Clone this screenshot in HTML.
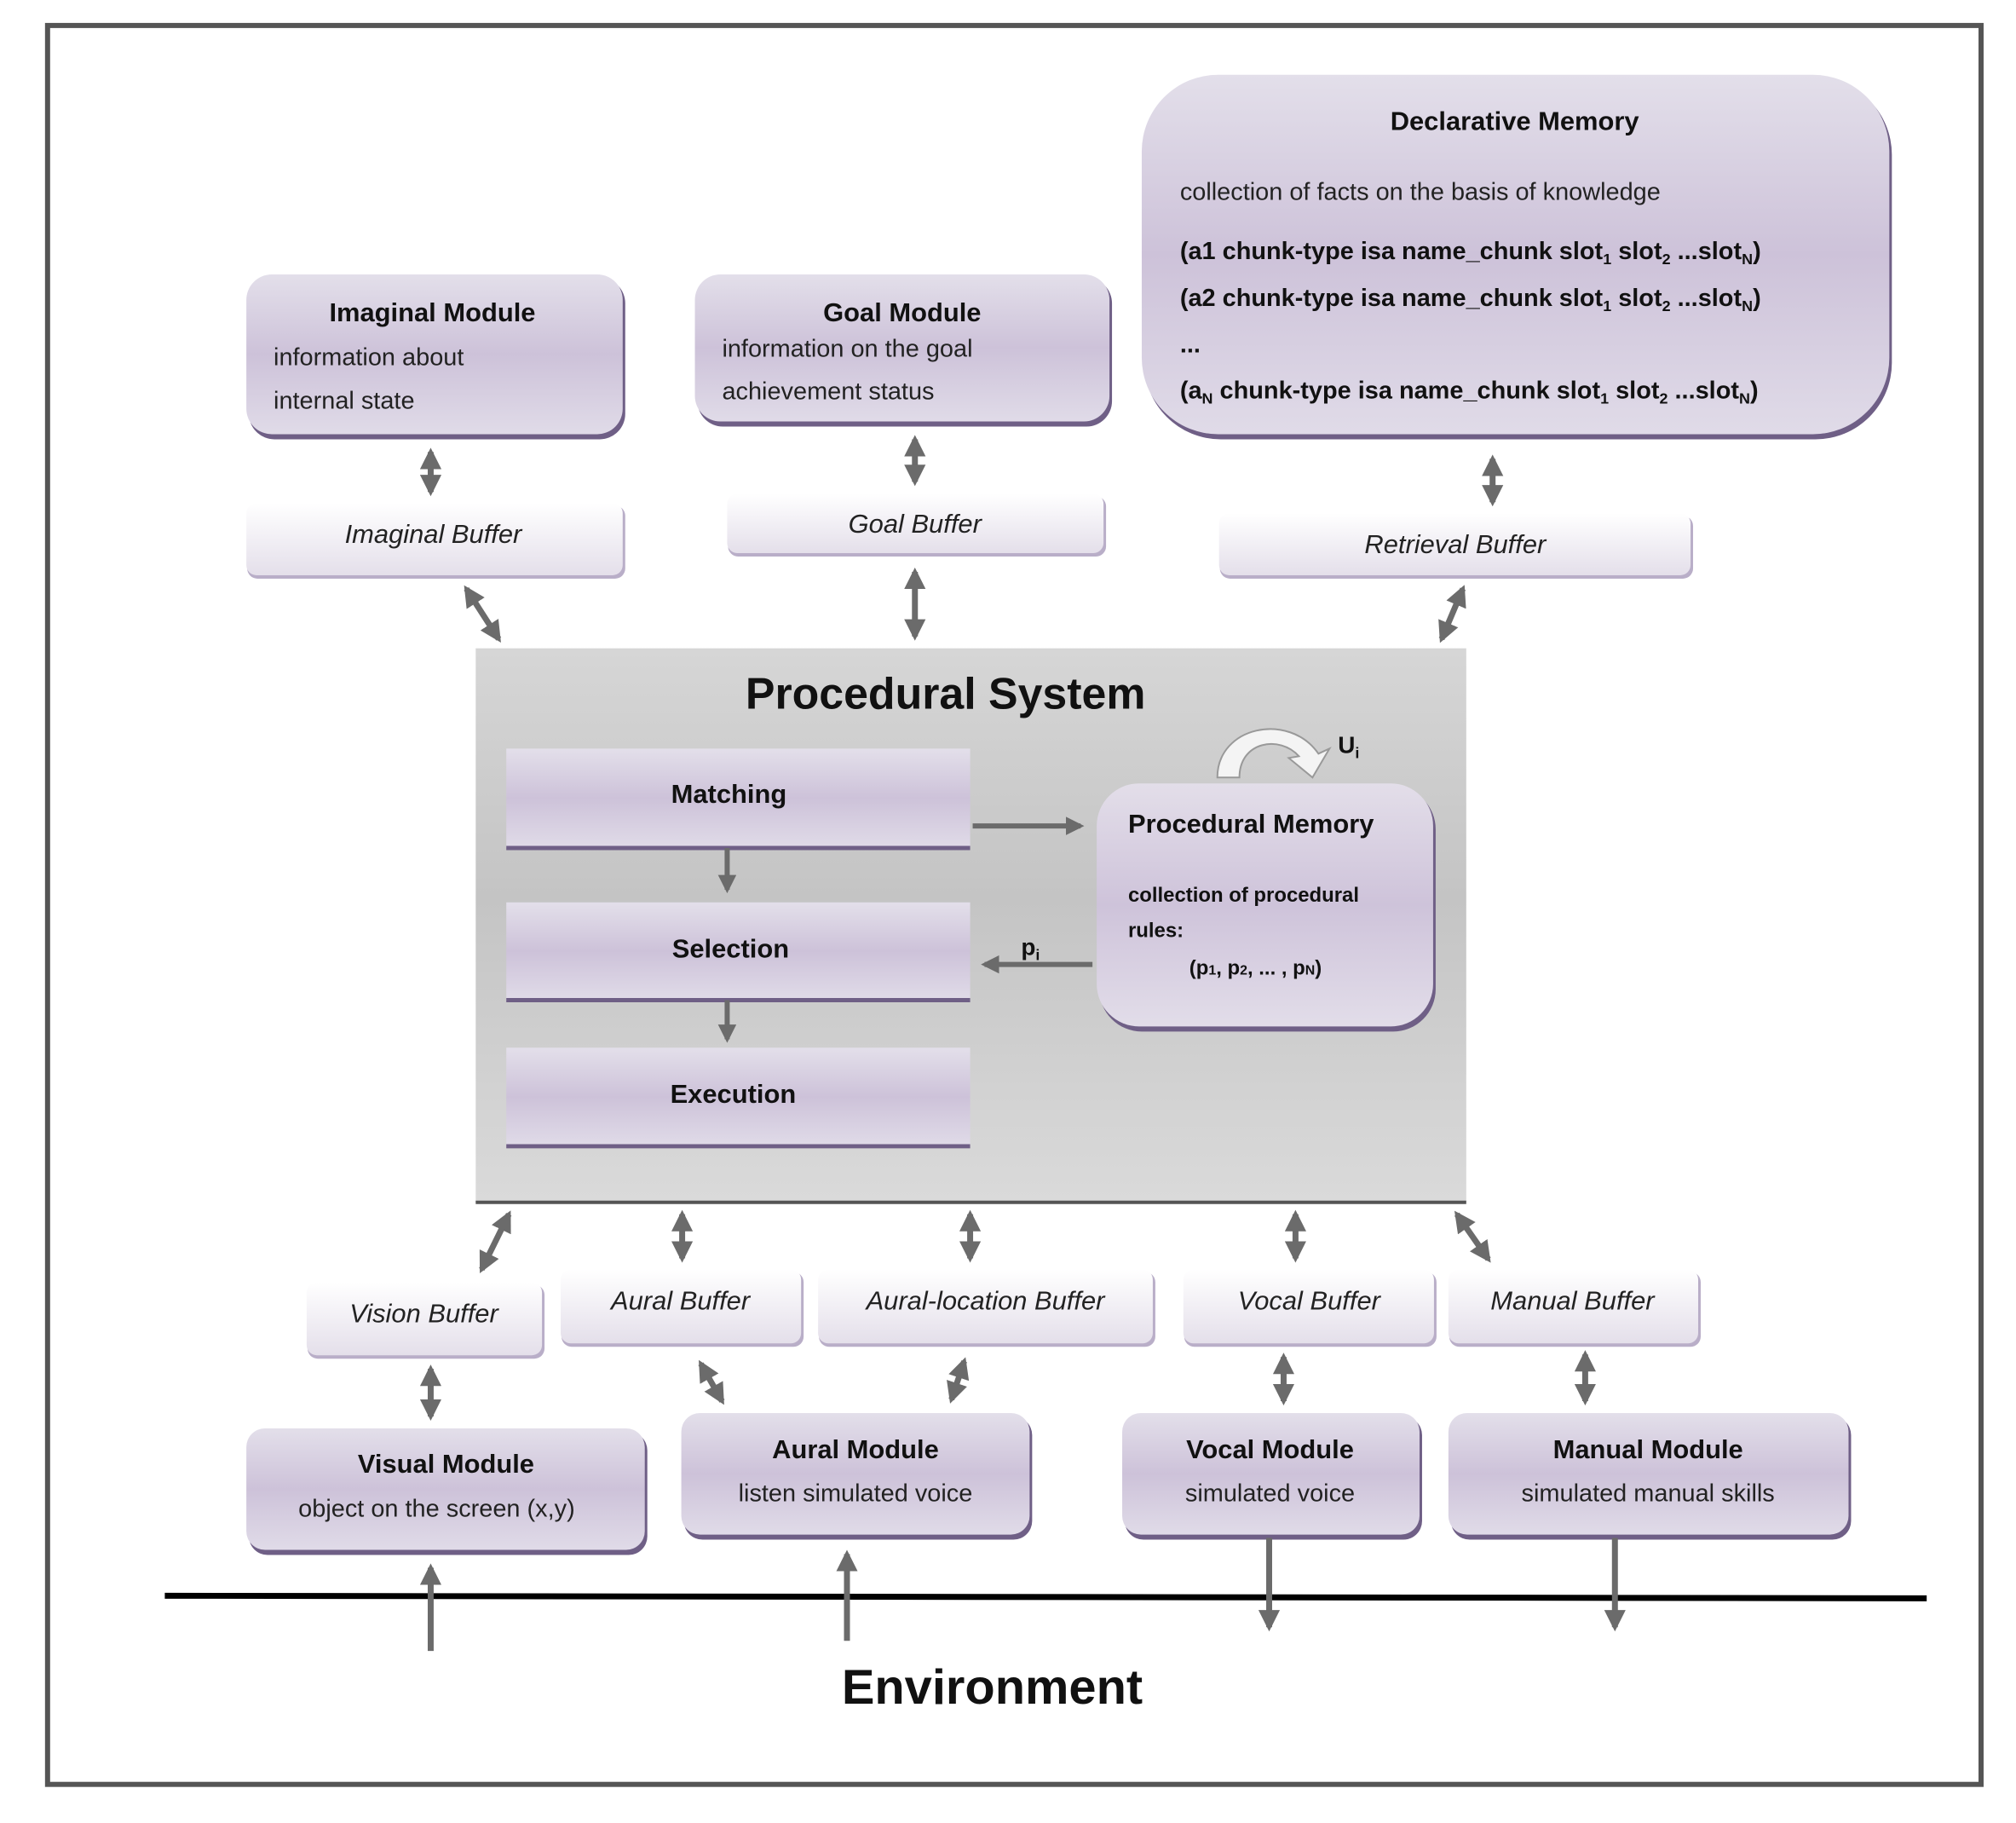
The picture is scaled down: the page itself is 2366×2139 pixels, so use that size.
<!DOCTYPE html>
<html><head><meta charset="utf-8"><style>
html,body{margin:0;padding:0;background:#fff;}
svg{display:block;font-family:"Liberation Sans",sans-serif;}
.t{font-weight:bold;font-size:31px;fill:#111;text-anchor:middle;}
.b{font-size:29px;fill:#222;}
.bu{font-style:italic;font-size:31px;fill:#222;text-anchor:middle;}
.d{font-weight:bold;font-size:29px;fill:#111;}
</style></head><body>
<svg width="2366" height="2139" viewBox="0 0 2366 2139" xmlns="http://www.w3.org/2000/svg">
<defs>
<linearGradient id="mod" x1="0" y1="0" x2="0" y2="1">
<stop offset="0" stop-color="#e3dfea"/><stop offset="0.5" stop-color="#cdc2d9"/><stop offset="1" stop-color="#e0dbe8"/></linearGradient>
<linearGradient id="buf" x1="0" y1="0" x2="0" y2="1">
<stop offset="0" stop-color="#ffffff"/><stop offset="1" stop-color="#e4dfea"/></linearGradient>
<linearGradient id="ps" x1="0" y1="0" x2="0" y2="1">
<stop offset="0" stop-color="#d6d6d6"/><stop offset="0.45" stop-color="#c4c4c4"/><stop offset="1" stop-color="#dadada"/></linearGradient>
<linearGradient id="pm" x1="0" y1="0" x2="0" y2="1">
<stop offset="0" stop-color="#e3dee9"/><stop offset="0.5" stop-color="#cec3da"/><stop offset="1" stop-color="#e2dde9"/></linearGradient>
<marker id="ah" viewBox="0 0 10 10" refX="8" refY="5" markerWidth="3.6" markerHeight="3.6" orient="auto-start-reverse" markerUnits="strokeWidth">
<path d="M0,0 L10,5 L0,10 z" fill="#6b6b6b"/></marker>
</defs>
<g transform="translate(-3,-3) scale(0.997)">
<rect x="59" y="33" width="2276" height="2070" fill="#fff" stroke="#555" stroke-width="6"/>

<g>
<rect x="296" y="330" width="443" height="190" rx="30" fill="#6f5f86"/>
<rect x="293" y="326" width="443" height="188" rx="30" fill="url(#mod)"/>
<rect x="824" y="330" width="488" height="175" rx="30" fill="#6f5f86"/>
<rect x="821" y="326" width="488" height="173" rx="30" fill="url(#mod)"/>
<rect x="1350" y="95" width="880" height="425" rx="90" fill="#6f5f86"/>
<rect x="1347" y="91" width="880" height="423" rx="90" fill="url(#mod)"/>
</g>
<text class="t" x="512" y="381">Imaginal Module</text>
<text class="b" x="325" y="433">information about</text>
<text class="b" x="325" y="484">internal state</text>
<text class="t" x="1065" y="381">Goal Module</text>
<text class="b" x="853" y="423">information on the goal</text>
<text class="b" x="853" y="473">achievement status</text>
<text class="t" x="1786" y="156">Declarative Memory</text>
<text class="b" x="1392" y="238">collection of facts on the basis of knowledge</text>
<text class="d" x="1392" y="308">(a1 chunk-type isa name_chunk slot<tspan font-size="18" dy="6">1</tspan><tspan dy="-6"> slot</tspan><tspan font-size="18" dy="6">2</tspan><tspan dy="-6"> ...slot</tspan><tspan font-size="18" dy="6">N</tspan><tspan dy="-6">)</tspan></text>
<text class="d" x="1392" y="363">(a2 chunk-type isa name_chunk slot<tspan font-size="18" dy="6">1</tspan><tspan dy="-6"> slot</tspan><tspan font-size="18" dy="6">2</tspan><tspan dy="-6"> ...slot</tspan><tspan font-size="18" dy="6">N</tspan><tspan dy="-6">)</tspan></text>
<text class="d" x="1392" y="418">...</text>
<text class="d" x="1392" y="472">(a<tspan font-size="18" dy="6">N</tspan><tspan dy="-6"> chunk-type isa name_chunk slot</tspan><tspan font-size="18" dy="6">1</tspan><tspan dy="-6"> slot</tspan><tspan font-size="18" dy="6">2</tspan><tspan dy="-6"> ...slot</tspan><tspan font-size="18" dy="6">N</tspan><tspan dy="-6">)</tspan></text>

<g>
<rect x="294" y="598" width="445" height="86" rx="12" fill="#b9aec8"/>
<rect x="293" y="595" width="443" height="85" rx="12" fill="url(#buf)"/>
<rect x="860" y="587" width="445" height="71" rx="12" fill="#b9aec8"/>
<rect x="859" y="584" width="443" height="70" rx="12" fill="url(#buf)"/>
<rect x="1439" y="610" width="557" height="74" rx="12" fill="#b9aec8"/>
<rect x="1438" y="607" width="555" height="73" rx="12" fill="url(#buf)"/>
</g>
<text class="bu" x="513" y="642">Imaginal Buffer</text>
<text class="bu" x="1080" y="630">Goal Buffer</text>
<text class="bu" x="1716" y="654">Retrieval Buffer</text>

<rect x="563" y="766" width="1166" height="652" fill="url(#ps)"/>
<line x1="563" y1="1418" x2="1729" y2="1418" stroke="#555" stroke-width="4"/>
<text x="1116" y="837" font-size="52" font-weight="bold" fill="#111" text-anchor="middle">Procedural System</text>

<g>
<rect x="599" y="884" width="546" height="117" fill="url(#mod)"/>
<line x1="599" y1="1001" x2="1145" y2="1001" stroke="#6f5f86" stroke-width="5"/>
<rect x="599" y="1065" width="546" height="115" fill="url(#mod)"/>
<line x1="599" y1="1180" x2="1145" y2="1180" stroke="#6f5f86" stroke-width="5"/>
<rect x="599" y="1236" width="546" height="116" fill="url(#mod)"/>
<line x1="599" y1="1352" x2="1145" y2="1352" stroke="#6f5f86" stroke-width="5"/>
</g>
<text class="t" x="861" y="948">Matching</text>
<text class="t" x="863" y="1130">Selection</text>
<text class="t" x="866" y="1301">Execution</text>

<rect x="1297" y="929" width="396" height="288" rx="50" fill="#6f5f86"/>
<rect x="1294" y="925" width="396" height="286" rx="50" fill="url(#pm)"/>
<text x="1331" y="983" font-size="31" font-weight="bold" fill="#111">Procedural Memory</text>
<text x="1331" y="1064" font-size="24" font-weight="bold" fill="#111">collection of procedural</text>
<text x="1331" y="1106" font-size="24" font-weight="bold" fill="#111">rules:</text>
<text x="1403" y="1150" font-size="24" font-weight="bold" fill="#111">(p<tspan font-size="16">1</tspan>, p<tspan font-size="16">2</tspan>, ... , p<tspan font-size="16">N</tspan>)</text>

<path d="M1436,918 C1436,858 1520,840 1555,890 L1568,884 L1548,918 L1520,895 L1532,893 C1510,868 1462,875 1462,918 Z" fill="#f4f4f4" stroke="#999" stroke-width="2"/>
<text x="1578" y="889" font-size="28" font-weight="bold" fill="#111">U<tspan font-size="18" dy="6">i</tspan></text>
<text x="1205" y="1127" font-size="28" font-weight="bold" fill="#111">p<tspan font-size="18" dy="6">i</tspan></text>

<g stroke="#6b6b6b" stroke-width="6" fill="none">
<line x1="1148" y1="975" x2="1275" y2="975" marker-end="url(#ah)"/>
<line x1="859" y1="1001" x2="859" y2="1050" marker-end="url(#ah)"/>
<line x1="859" y1="1180" x2="859" y2="1226" marker-end="url(#ah)"/>
<line x1="1289" y1="1138" x2="1162" y2="1138" marker-end="url(#ah)"/>
</g>

<g>
<rect x="365" y="1515" width="279" height="87" rx="12" fill="#b9aec8"/>
<rect x="364" y="1512" width="277" height="86" rx="12" fill="url(#buf)"/>
<rect x="664" y="1500" width="285" height="88" rx="12" fill="#b9aec8"/>
<rect x="663" y="1497" width="283" height="87" rx="12" fill="url(#buf)"/>
<rect x="967" y="1500" width="396" height="88" rx="12" fill="#b9aec8"/>
<rect x="966" y="1497" width="394" height="87" rx="12" fill="url(#buf)"/>
<rect x="1397" y="1500" width="297" height="88" rx="12" fill="#b9aec8"/>
<rect x="1396" y="1497" width="295" height="87" rx="12" fill="url(#buf)"/>
<rect x="1709" y="1500" width="296" height="88" rx="12" fill="#b9aec8"/>
<rect x="1708" y="1497" width="294" height="87" rx="12" fill="url(#buf)"/>
</g>
<text class="bu" x="502" y="1559">Vision Buffer</text>
<text class="bu" x="804" y="1544">Aural Buffer</text>
<text class="bu" x="1163" y="1544">Aural-location Buffer</text>
<text class="bu" x="1544" y="1544">Vocal Buffer</text>
<text class="bu" x="1854" y="1544">Manual Buffer</text>

<g>
<rect x="296" y="1688" width="469" height="145" rx="22" fill="#6f5f86"/>
<rect x="293" y="1684" width="469" height="143" rx="22" fill="url(#mod)"/>
<rect x="808" y="1670" width="410" height="145" rx="22" fill="#6f5f86"/>
<rect x="805" y="1666" width="410" height="143" rx="22" fill="url(#mod)"/>
<rect x="1327" y="1670" width="350" height="145" rx="22" fill="#6f5f86"/>
<rect x="1324" y="1666" width="350" height="143" rx="22" fill="url(#mod)"/>
<rect x="1711" y="1670" width="471" height="145" rx="22" fill="#6f5f86"/>
<rect x="1708" y="1666" width="471" height="143" rx="22" fill="url(#mod)"/>
</g>
<text class="t" x="528" y="1736">Visual Module</text>
<text class="b" x="517" y="1788" text-anchor="middle">object on the screen (x,y)</text>
<text class="t" x="1010" y="1719">Aural Module</text>
<text class="b" x="1010" y="1770" text-anchor="middle">listen simulated voice</text>
<text class="t" x="1498" y="1719">Vocal Module</text>
<text class="b" x="1498" y="1770" text-anchor="middle">simulated voice</text>
<text class="t" x="1943" y="1719">Manual Module</text>
<text class="b" x="1943" y="1770" text-anchor="middle">simulated manual skills</text>

<line x1="197" y1="1881" x2="2271" y2="1884" stroke="#000" stroke-width="7"/>
<text x="1171" y="2008" font-size="58" font-weight="bold" fill="#111" text-anchor="middle">Environment</text>

<g stroke="#6b6b6b" stroke-width="7" fill="none">
<line x1="510" y1="535" x2="510" y2="582" marker-start="url(#ah)" marker-end="url(#ah)"/>
<line x1="1080" y1="520" x2="1080" y2="570" marker-start="url(#ah)" marker-end="url(#ah)"/>
<line x1="1760" y1="543" x2="1760" y2="594" marker-start="url(#ah)" marker-end="url(#ah)"/>
<line x1="552" y1="696" x2="590" y2="755" marker-start="url(#ah)" marker-end="url(#ah)"/>
<line x1="1080" y1="676" x2="1080" y2="752" marker-start="url(#ah)" marker-end="url(#ah)"/>
<line x1="1725" y1="696" x2="1700" y2="755" marker-start="url(#ah)" marker-end="url(#ah)"/>
<line x1="602" y1="1432" x2="570" y2="1497" marker-start="url(#ah)" marker-end="url(#ah)"/>
<line x1="806" y1="1432" x2="806" y2="1484" marker-start="url(#ah)" marker-end="url(#ah)"/>
<line x1="1145" y1="1432" x2="1145" y2="1484" marker-start="url(#ah)" marker-end="url(#ah)"/>
<line x1="1528" y1="1432" x2="1528" y2="1484" marker-start="url(#ah)" marker-end="url(#ah)"/>
<line x1="1718" y1="1432" x2="1755" y2="1485" marker-start="url(#ah)" marker-end="url(#ah)"/>
<line x1="510" y1="1614" x2="510" y2="1670" marker-start="url(#ah)" marker-end="url(#ah)"/>
<line x1="828" y1="1608" x2="853" y2="1652" marker-start="url(#ah)" marker-end="url(#ah)"/>
<line x1="1138" y1="1605" x2="1123" y2="1650" marker-start="url(#ah)" marker-end="url(#ah)"/>
<line x1="1514" y1="1600" x2="1514" y2="1652" marker-start="url(#ah)" marker-end="url(#ah)"/>
<line x1="1869" y1="1597" x2="1869" y2="1652" marker-start="url(#ah)" marker-end="url(#ah)"/>
<line x1="510" y1="1946" x2="510" y2="1848" marker-end="url(#ah)"/>
<line x1="1000" y1="1934" x2="1000" y2="1832" marker-end="url(#ah)"/>
<line x1="1497" y1="1813" x2="1497" y2="1918" marker-end="url(#ah)"/>
<line x1="1904" y1="1813" x2="1904" y2="1918" marker-end="url(#ah)"/>
</g>
</g>
</svg>
</body></html>
